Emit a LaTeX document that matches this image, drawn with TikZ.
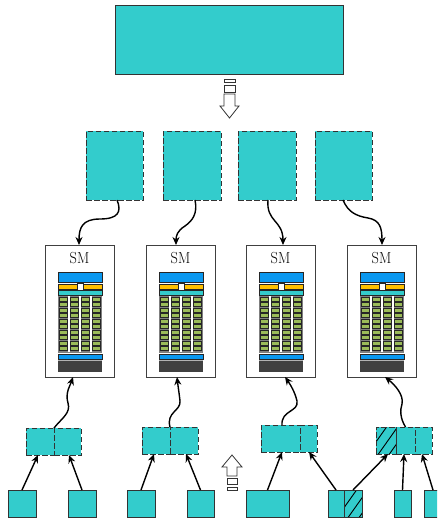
\documentclass[tikz,border=0pt]{standalone}
\usetikzlibrary{arrows.meta,calc}
\definecolor{tealfill}{HTML}{33CCCC}
\definecolor{edgegray}{HTML}{333333}
\definecolor{barblue}{HTML}{0A98F0}
\definecolor{barorange}{HTML}{FFC000}
\definecolor{cellgreen}{HTML}{9BBB59}
\definecolor{darkbar}{HTML}{404040}
\definecolor{gridgray}{HTML}{7F7F7F}

\tikzset{
  solidbox/.style={draw=edgegray, fill=tealfill, line width=0.9pt, inner sep=0pt, outer sep=0pt},
  dashbox/.style={draw=edgegray, fill=tealfill, line width=0.9pt, dash pattern=on 5.5pt off 2.5pt, inner sep=0pt, outer sep=0pt},
  smbox/.style={draw=black!75, fill=white, line width=0.8pt, inner sep=0pt, outer sep=0pt,
    minimum width=69pt, minimum height=132pt},
  link/.style={line width=1.4pt, -{Stealth[length=8pt,width=7pt]}},
  hollow/.style={draw=black!80, fill=white, line width=0.8pt},
  hatch/.style={line width=0.9pt, draw=black},
  part/.style={draw=black!85, line width=0.6pt},
}

% streaming multiprocessor internals, drawn relative to the box's top-left corner
\newcommand\smcore{%
  \node[font=\fontsize{16}{16}\selectfont, xscale=0.9] at (34.5,13) {SM};
  \fill[part, fill=barblue] (13,27) rectangle (57,37);
  \fill[part, fill=barorange] (13,39) rectangle (57,44);
  \fill[part, fill=white] (32,38) rectangle (38,45);
  \fill[part, fill=tealfill] (13,45.5) rectangle (57,50);
  \fill[gridgray] (13,51) rectangle (57,108);
  \foreach \cx in {24,35,46} {\fill[white] (\cx-0.6,51) rectangle (\cx+0.6,106.5);}
  \foreach \i in {0,...,3} {
    \foreach \j in {0,...,9} {
      \filldraw[part, fill=cellgreen] (13.8+11*\i,52+5.5*\j) rectangle (22.7+11*\i,56+5.5*\j);
    }
  }
  \filldraw[part, fill=barblue] (13,109) rectangle (57,114);
  \fill[gridgray!60] (13,114.5) rectangle (57,116);
  \fill[darkbar] (13,116) rectangle (57,127);
}

\begin{document}
\begin{tikzpicture}[x=1pt,y=-1pt]
\clip (0,0) rectangle (437,522);
\fill[white] (0,0) rectangle (437,522);

% host block
\node[solidbox, minimum width=228pt, minimum height=69pt] (host) at (229,39.5) {};

% hollow arrow pointing down
\filldraw[hollow] (224,79) rectangle (235,82);
\filldraw[hollow] (224,85) rectangle (235,92);
\filldraw[hollow] (224,94) -- (235,94) -- (235,106) -- (239,106) -- (229.5,118)
  -- (220,106) -- (224,106) -- cycle;

% block row
\node[dashbox, minimum width=57pt, minimum height=69pt] (d1) at (114.5,165.5) {};
\node[dashbox, minimum width=58pt, minimum height=69pt] (d2) at (192,165.5) {};
\node[dashbox, minimum width=58pt, minimum height=69pt] (d3) at (267,165.5) {};
\node[dashbox, minimum width=57pt, minimum height=69pt] (d4) at (343.5,165.5) {};

% streaming multiprocessors
\node[smbox] (sm1) at (79.5,311) {};
\node[smbox] (sm2) at (180.5,311) {};
\node[smbox] (sm3) at (280.5,311) {};
\node[smbox] (sm4) at (381.5,311) {};
\foreach \s in {sm1,sm2,sm3,sm4} {
  \begin{scope}[shift={(\s.north west)}]
    \smcore
  \end{scope}
}

% blocks dispatched to the multiprocessors
\draw[link] ($(d1.south)+(2.5,0)$) .. controls (122,212) and (118,219) .. (100,219)
  .. controls (82,219) and (79,228) .. ($(sm1.north)+(-0.5,0)$);
\draw[link] ($(d2.south)+(3,0)$) .. controls (198,214) and (192,221) .. (185,226)
  .. controls (177,231) and (176,236) .. ($(sm2.north)+(-4.5,0)$);
\draw[link] ($(d3.south)+(1,0)$) .. controls (266,222) and (283,220) .. ($(sm3.north)+(2.5,0)$);
\draw[link] ($(d4.south)+(-0.5,0)$) .. controls (348,212) and (356,216) .. (368,218)
  .. controls (380,220) and (382,228) .. ($(sm4.north)+(0.5,0)$);

% grouped blocks below
\node[dashbox, minimum width=28pt, minimum height=27pt] (g1a) at (40,441.5) {};
\node[dashbox, minimum width=27pt, minimum height=27pt] (g1b) at (67.5,441.5) {};
\node[dashbox, minimum width=28pt, minimum height=27pt] (g2a) at (156,440.5) {};
\node[dashbox, minimum width=28pt, minimum height=27pt] (g2b) at (184,440.5) {};
\node[dashbox, minimum width=39pt, minimum height=27pt] (g3a) at (280.5,438.5) {};
\node[dashbox, minimum width=17pt, minimum height=27pt] (g3b) at (308.5,438.5) {};
\node[dashbox, minimum width=20pt, minimum height=27pt] (g4a) at (386,440.5) {};
\node[dashbox, minimum width=19pt, minimum height=27pt] (g4b) at (405.5,440.5) {};
\node[dashbox, minimum width=17pt, minimum height=27pt] (g4c) at (423.5,440.5) {};
\begin{scope}
  \clip (g4a.south west) rectangle (g4a.north east);
  \foreach \h in {366,377,388} {\draw[hatch] (\h,456) -- (\h+22,425);}
\end{scope}
\draw[dashbox, fill=none] (g4a.south west) rectangle (g4a.north east);

% groups feeding the multiprocessors
\draw[link] (g1a.north east) .. controls (62,418) and (71,413) .. (68,403)
  .. controls (65,393) and (70,386) .. ($(sm1.south)+(-6.5,0)$);
\draw[link] (g2a.north east) .. controls (166,412) and (181,411) .. (180,401)
  .. controls (179,392) and (178,386) .. ($(sm2.south)+(-3.5,0)$);
\draw[link] ($(g3a.north)+(1.5,0)$) .. controls (281,410) and (299,412) .. (297,401)
  .. controls (295,392) and (290,384) .. ($(sm3.south)+(4.5,0)$);
\draw[link] (g4b.north) .. controls (400,418) and (400,410) .. (402,404)
  .. controls (404,395) and (395,385) .. ($(sm4.south)+(3.5,0)$);

% hollow arrow pointing up
\filldraw[hollow] (227,487) rectangle (237,490);
\filldraw[hollow] (227,478) rectangle (237,484);
\filldraw[hollow] (227,476) -- (237,476) -- (237,467) -- (242,467) -- (232,455)
  -- (222,467) -- (227,467) -- cycle;

% source tiles
\node[solidbox, minimum width=28pt, minimum height=27pt] (s1) at (22,503.5) {};
\node[solidbox, minimum width=28pt, minimum height=27pt] (s2) at (82,503.5) {};
\node[solidbox, minimum width=28pt, minimum height=27pt] (s3) at (141,503.5) {};
\node[solidbox, minimum width=27pt, minimum height=27pt] (s4) at (200.5,503.5) {};
\node[solidbox, minimum width=43pt, minimum height=27pt] (s5) at (267.5,503.5) {};
\node[solidbox, minimum width=16pt, minimum height=27pt] (s6a) at (336,503.5) {};
\node[solidbox, minimum width=18pt, minimum height=27pt] (s6b) at (353,503.5) {};
\node[solidbox, minimum width=17pt, minimum height=27pt] (s7) at (402.5,503.5) {};
\node[solidbox, minimum width=28pt, minimum height=27pt] (s8) at (438,503.5) {};
\begin{scope}
  \clip (s6b.south west) rectangle (s6b.north east);
  \foreach \h in {336,347,358} {\draw[hatch] (\h,519) -- (\h+22,488);}
\end{scope}
\draw[solidbox, fill=none] (s6b.south west) rectangle (s6b.north east);

% tiles gathered into groups
\draw[link] (s1.north) -- ($(g1a.south)+(-2,0)$);
\draw[link] (s2.north) -- ($(g1b.south)+(1.5,0)$);
\draw[link] (s3.north) -- ($(g2a.south)+(-2,0)$);
\draw[link] (s4.north) -- ($(g2b.south)+(2,0)$);
\draw[link] (s5.north) -- ($(g3a.south)+(1.5,0)$);
\draw[link] (s6a.north) -- ($(g3b.south)+(0.5,0)$);
\draw[link] (s6b.north) -- ($(g4a.south)+(2,0)$);
\draw[link] (s7.north) -- ($(g4b.south)+(-1.5,0)$);
\draw[link] ($(s8.north)+(-5,0)$) -- ($(g4c.south)+(-1.5,0)$);
\end{tikzpicture}
\end{document}
